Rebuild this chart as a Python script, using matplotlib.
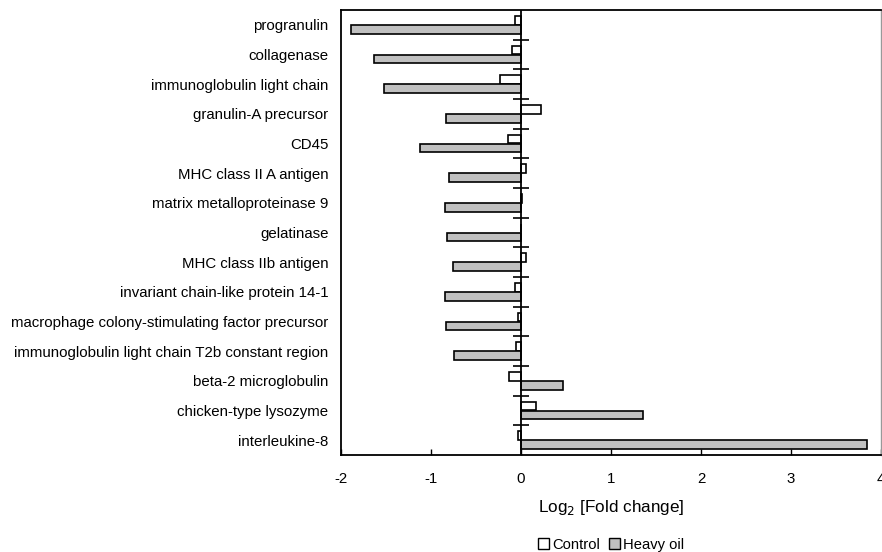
import matplotlib
matplotlib.use("Agg")
import matplotlib.pyplot as plt
import numpy as np
from matplotlib.patches import Patch

plt.rcParams['font.family'] = ['Liberation Sans', 'DejaVu Sans']

genes = [
    "progranulin",
    "collagenase",
    "immunoglobulin light chain",
    "granulin-A precursor",
    "CD45",
    "MHC class II A antigen",
    "matrix metalloproteinase 9",
    "gelatinase",
    "MHC class IIb antigen",
    "invariant chain-like protein 14-1",
    "macrophage colony-stimulating factor precursor",
    "immunoglobulin light chain T2b constant region",
    "beta-2 microglobulin",
    "chicken-type lysozyme",
    "interleukine-8",
]
control = [-0.07, -0.10, -0.23, 0.22, -0.14, 0.06, 0.01, 0.005, 0.06, -0.07, -0.03, -0.06, -0.13, 0.17, -0.03]
heavy_oil = [-1.89, -1.63, -1.52, -0.83, -1.12, -0.80, -0.84, -0.82, -0.76, -0.84, -0.83, -0.74, 0.47, 1.36, 3.84]
xticks = [-2, -1, 0, 1, 2, 3, 4]

fig = plt.figure(figsize=(8.82, 5.52), dpi=100)
ax = fig.add_axes([341/882, 1-455/552, 540/882, 445/552])

y = np.arange(len(genes))
h = 0.29
off = 0.155
ax.barh(y - off, control, height=h, color='white', edgecolor='black', linewidth=1.2, label='Control', zorder=3)
ax.barh(y + off, heavy_oil, height=h, color='#c0c0c0', edgecolor='black', linewidth=1.2, label='Heavy oil', zorder=3)

ax.set_ylim(len(genes) - 0.5, -0.5)
ax.set_xlim(-2, 4)

# zero line with category-boundary ticks
ax.axvline(0, color='black', linewidth=1.3, zorder=4)
bounds = np.arange(len(genes) - 1) + 0.5
ax.plot(np.zeros_like(bounds), bounds, linestyle='none', marker='_', markersize=11,
        markeredgewidth=1.2, color='black', zorder=4, clip_on=False)

ax.set_yticks(y)
ax.set_yticklabels(genes, fontsize=10.8)
ax.tick_params(axis='y', length=0, pad=9)

ax.set_xticks(xticks)
ax.set_xticklabels([str(v) for v in xticks], fontsize=10.8)
ax.tick_params(axis='x', direction='in', length=4, width=1, pad=12)

ax.set_xlabel('Log$_2$ [Fold change]', fontsize=12.3, labelpad=9)

for s in ['left', 'bottom', 'top']:
    ax.spines[s].set_linewidth(1.3)
    ax.spines[s].set_color('black')
ax.spines['right'].set_color('#999999')
ax.spines['right'].set_linewidth(1.0)

handles = [Patch(facecolor='white', edgecolor='black', label='Control'),
           Patch(facecolor='#c0c0c0', edgecolor='black', label='Heavy oil')]
fig.legend(handles=handles, loc='center', bbox_to_anchor=(611/882, 1-545/552), ncol=2,
           frameon=False, fontsize=10.6, handlelength=0.75, handleheight=0.75,
           handletextpad=0.2, columnspacing=0.6, borderaxespad=0)

fig.savefig('out.png', dpi=100)
